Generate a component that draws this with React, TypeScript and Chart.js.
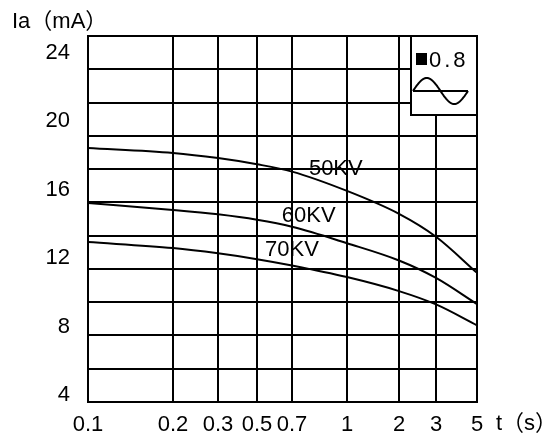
import React, { useEffect, useRef } from "react";
import { Chart, registerables } from "chart.js";

Chart.register(...registerables);

// ---- data ----
const tTicks = [0.1, 0.2, 0.3, 0.5, 0.7, 1, 2, 3, 5];
const tTickLabels = ["0.1", "0.2", "0.3", "0.5", "0.7", "1", "2", "3", "5"];
// the original time axis is hand-spaced: relative width of each gap between gridlines
const tAxisGaps = [85, 45, 39, 35, 55, 52, 37, 41];
const yTicks = [4, 8, 12, 16, 20, 24];
const ma50kv = [18.27, 17.98, 17.68, 17.32, 16.89, 15.76, 14.42, 13.08, 10.97];
const ma60kv = [15.05, 14.65, 14.39, 14.07, 13.66, 12.7, 11.69, 10.67, 9.14];
const ma70kv = [12.77, 12.42, 12.11, 11.77, 11.4, 10.72, 9.9, 9.12, 7.9];
const seriesNames = ["50KV", "60KV", "70KV"];
const labelT = [0.93, 0.78, 0.7];
const labelMA = [17.16, 14.41, 12.42];
const yMin = 3.415;
const yMax = 24.82;
const gridRows = 11;

const FONT = '"Liberation Sans", Arial, "Noto Sans CJK SC", sans-serif';

const axisStops: number[] = tAxisGaps.reduce(
  (acc: number[], g) => [...acc, acc[acc.length - 1] + g],
  [0]
);
const axisMax = axisStops[axisStops.length - 1];

function tToAxis(t: number): number {
  for (let i = 0; i < tTicks.length - 1; i++) {
    const a = tTicks[i];
    const b = tTicks[i + 1];
    if (t >= a && t <= b) {
      const f = (Math.log(t) - Math.log(a)) / (Math.log(b) - Math.log(a));
      return axisStops[i] + f * (axisStops[i + 1] - axisStops[i]);
    }
  }
  return t < tTicks[0] ? 0 : axisMax;
}

const decorPlugin = {
  id: "decor",
  afterDatasetsDraw(chart: any) {
    const { ctx, chartArea, scales } = chart;
    ctx.save();
    ctx.fillStyle = "#000";
    ctx.strokeStyle = "#000";
    ctx.textBaseline = "alphabetic";
    ctx.font = `22px ${FONT}`;
    // axis titles
    ctx.textAlign = "left";
    ctx.fillText("Ia（mA）", 12, 28);
    ctx.fillText("t（s）", 496, 430);
    // curve labels
    ctx.textAlign = "center";
    ctx.textBaseline = "middle";
    seriesNames.forEach((n, i) => {
      const x = scales.x.getPixelForValue(tToAxis(labelT[i]));
      const y = scales.y.getPixelForValue(labelMA[i]);
      ctx.fillText(n, x, y + 2);
    });
    // legend box (top-right)
    const bw = 66;
    const bh = 79;
    const bx = chartArea.right - bw;
    const by = chartArea.top;
    ctx.fillStyle = "#fff";
    ctx.fillRect(bx, by, bw, bh);
    ctx.lineWidth = 2;
    ctx.strokeRect(bx, by, bw, bh);
    ctx.fillStyle = "#000";
    ctx.fillRect(bx + 5, by + 17, 11, 12);
    ctx.textAlign = "left";
    ctx.textBaseline = "alphabetic";
    (ctx as any).letterSpacing = "3px";
    ctx.fillText("0.8", bx + 18, by + 31);
    (ctx as any).letterSpacing = "0px";
    const x0 = bx + 2;
    const x1 = bx + 57;
    const yc = by + 55;
    ctx.beginPath();
    ctx.moveTo(x0, yc);
    ctx.lineTo(x1, yc);
    ctx.stroke();
    ctx.beginPath();
    for (let i = 0; i <= 60; i++) {
      const x = x0 + ((x1 - x0) * i) / 60;
      const y = yc - 13 * Math.sin((2 * Math.PI * i) / 60);
      if (i === 0) ctx.moveTo(x, y);
      else ctx.lineTo(x, y);
    }
    ctx.stroke();
    ctx.restore();
  },
};

export default function App() {
  const ref = useRef<HTMLCanvasElement>(null);
  useEffect(() => {
    if (!ref.current) return;
    const mk = (vals: number[]) =>
      tTicks.map((t, i) => ({ x: tToAxis(t), y: vals[i] }));
    const ds = [ma50kv, ma60kv, ma70kv].map((v, i) => ({
      label: seriesNames[i],
      data: mk(v),
      borderColor: "#000",
      borderWidth: 2,
      pointRadius: 0,
      fill: false,
      cubicInterpolationMode: "monotone" as const,
    }));
    const chart = new Chart(ref.current, {
      type: "line",
      data: { datasets: ds },
      options: {
        animation: false,
        responsive: false,
        layout: { padding: { top: 36, right: 80, left: 0, bottom: 0 } },
        plugins: { legend: { display: false }, tooltip: { enabled: false } },
        scales: {
          x: {
            type: "linear",
            min: 0,
            max: axisMax,
            afterBuildTicks: (axis: any) => {
              axis.ticks = axisStops.map((v) => ({ value: v }));
            },
            afterFit: (axis: any) => {
              axis.height = 35;
            },
            grid: { color: "#000", lineWidth: 2, drawTicks: false },
            border: { color: "#000", width: 2 },
            ticks: {
              autoSkip: false,
              maxRotation: 0,
              padding: 10,
              color: "#000",
              font: { family: FONT, size: 22 },
              callback: (_v: any, i: number) => tTickLabels[i],
            },
          },
          y: {
            type: "linear",
            min: yMin,
            max: yMax,
            afterBuildTicks: (axis: any) => {
              axis.ticks = yTicks.map((v) => ({ value: v }));
            },
            afterFit: (axis: any) => {
              axis.width = 88;
            },
            grid: { display: false },
            border: { color: "#000", width: 2 },
            ticks: {
              padding: 10,
              labelOffset: 3,
              color: "#000",
              font: { family: FONT, size: 22 },
            },
          },
          y2: {
            type: "linear",
            position: "right",
            min: 0,
            max: gridRows,
            afterFit: (axis: any) => {
              axis.width = 0;
            },
            ticks: { display: false, stepSize: 1 },
            grid: { color: "#000", lineWidth: 2, drawTicks: false },
            border: { display: false },
          },
        },
      },
      plugins: [decorPlugin],
    });
    return () => chart.destroy();
  }, []);
  return (
    <div style={{ position: "absolute", left: 0, top: 0, width: 557, height: 437, background: "#fff" }}>
      <canvas ref={ref} width={557} height={437} />
    </div>
  );
}
